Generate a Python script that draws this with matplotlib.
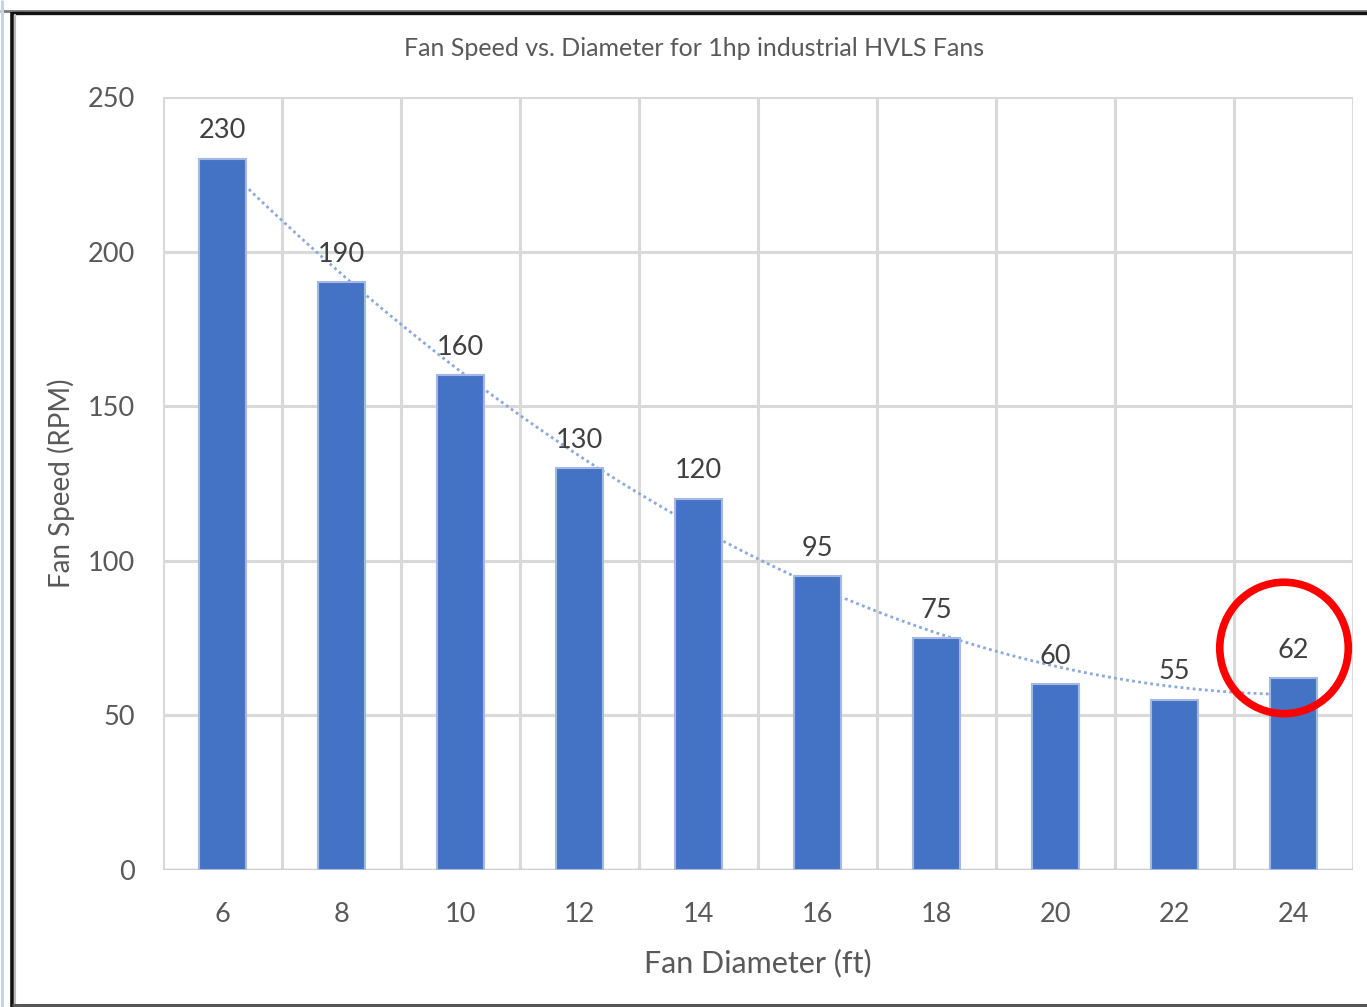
import numpy as np
import matplotlib
matplotlib.use("Agg")
import matplotlib.pyplot as plt
from matplotlib.patches import Ellipse
from matplotlib.lines import Line2D

# Fan diameters (ft) and rated speeds (RPM)
diameters = ["6", "8", "10", "12", "14", "16", "18", "20", "22", "24"]
speeds = [230, 190, 160, 130, 120, 95, 75, 60, 55, 62]
y_ticks = [0, 50, 100, 150, 200, 250]

plt.rcParams["font.family"] = ["Lato", "DejaVu Sans"]

fig = plt.figure(figsize=(13.67, 10.07), dpi=100)
ax = fig.add_axes([0.1192, 0.1361, 0.8706, 0.7676])

x = np.arange(len(diameters))

# Grid: horizontal at value ticks, vertical between categories
for yv in y_ticks:
    ax.axhline(yv, color="#D9D9D9", lw=2.2, zorder=0)
for xv in np.arange(-0.5, len(diameters), 1.0):
    ax.axvline(xv, color="#D9D9D9", lw=2.2, zorder=0)
ax.axhline(0, color="#CFCFCF", lw=2.5, zorder=0.5)

# Second-order polynomial trendline (behind the bars)
coef = np.polyfit(x + 1, speeds, 2)
xs = np.linspace(0, len(diameters) - 1, 300)
ax.plot(xs, np.polyval(coef, xs + 1), color="#8AA8DC", lw=2.0,
        linestyle=(0, (1, 1.2)), zorder=1)

bars = ax.bar(x, speeds, width=0.40, color="#4472C4",
              edgecolor="#A4B9E2", linewidth=1.5, zorder=2)

for xi, v in zip(x, speeds):
    ax.text(xi, v + 5, str(v), ha="center", va="bottom", fontsize=19.5,
            color="#404040", zorder=3)

ax.set_xlim(-0.5, len(diameters) - 0.5)
ax.set_ylim(0, 250)
ax.set_xticks(x)
ax.set_xticklabels(diameters)
ax.set_yticks(y_ticks)
ax.tick_params(axis="both", length=0, labelsize=19.5, labelcolor="#595959")
ax.tick_params(axis="x", pad=23)
ax.tick_params(axis="y", pad=20)
for s in ax.spines.values():
    s.set_visible(False)

ax.set_xlabel("Fan Diameter (ft)", fontsize=22, color="#595959", labelpad=16)
ax.set_ylabel("Fan Speed (RPM)", fontsize=20, color="#595959", labelpad=9)

fig.text(694 / 1367, 1 - 48 / 1007,
         "Fan Speed vs. Diameter for 1hp industrial HVLS Fans",
         ha="center", va="center", fontsize=18, color="#595959")

# Highlight ring around the last bar's label
ring = Ellipse((8.92, 71.8), width=1.08, height=42.5, fill=False,
               edgecolor="#FF0000", lw=5.5, zorder=4, clip_on=False)
ax.add_patch(ring)

# Window frame lines
W, H = 1367, 1007
def px_line(x0, y0, x1, y1, color, lw):
    fig.add_artist(Line2D([x0 / W, x1 / W], [1 - y0 / H, 1 - y1 / H],
                          transform=fig.transFigure, color=color, lw=lw,
                          solid_capstyle="butt"))

px_line(0, 10.5, W, 10.5, "#7A7A7A", 2.0)
px_line(12, 13, W, 13, "#111111", 2.4)
px_line(1.5, 0, 1.5, H, "#C9D3DF", 2.2)
px_line(11.5, 12, 11.5, H, "#111111", 2.6)
px_line(14.5, 14, 14.5, H, "#BBBBBB", 1.5)
px_line(12, 1005, W, 1005, "#555555", 2.2)

fig.savefig("out.png", dpi=100)
